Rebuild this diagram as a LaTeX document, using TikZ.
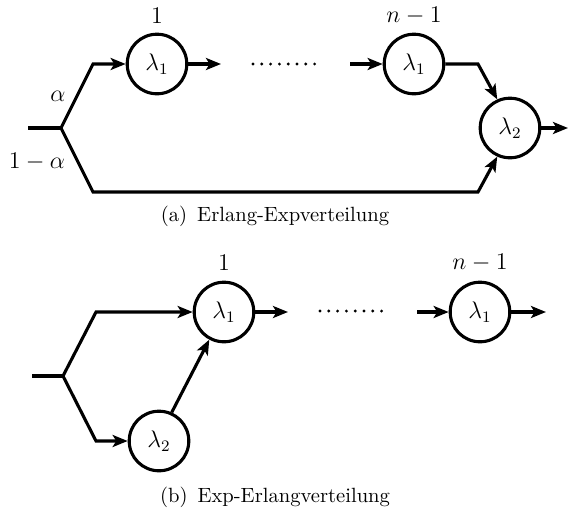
\documentclass[tikz,border=0pt]{standalone}
\usetikzlibrary{arrows.meta}

\tikzset{
  wire/.style={line width=1.55pt, line join=miter},
  arr/.style={wire, -{Stealth[length=7.5pt,width=6pt,inset=1.8pt]}},
  station/.style={circle, draw, line width=1.55pt, minimum size=29.8pt, inner sep=0pt,
                  font=\fontsize{11.5}{13}\selectfont},
  tag/.style={inner sep=0pt, font=\fontsize{11.8}{14}\selectfont},
  dotrow/.style={line width=1.6pt, line cap=round, dash pattern=on 0pt off 4.4pt},
  subcap/.style={inner sep=0pt, font=\fontsize{10.3}{12}\selectfont}
}

\begin{document}
\begin{tikzpicture}[x=0.5pt, y=-0.5pt]
  \useasboundingbox (0,0) rectangle (568,509);

  % ---------- (a) Erlang-Exp ----------
  \coordinate (inA) at (28,128);
  \coordinate (brA) at (61,128);
  \coordinate (upA) at (93,64);
  \coordinate (dnA) at (93,192);
  \node[station] (a1) at (157,64) {$\lambda_1$};
  \node[station] (an) at (414,64) {$\lambda_1$};
  \node[station] (a2) at (510,128) {$\lambda_2$};
  \node[tag] (a1t) at (157,16) {$1$};
  \node[tag] (ant) at (414,16) {$n-1$};
  \node[tag] (alf) at (58,96) {$\alpha$};
  \node[tag] (nalf) at (37,162) {$1-\alpha$};
  \coordinate (a1o) at (221,64);
  \coordinate (dotsA1) at (253,64);
  \coordinate (dotsA2) at (315,64);
  \coordinate (ani) at (350,64);
  \coordinate (kA1) at (478,64);
  \coordinate (kA2) at (478,192);
  \coordinate (aout) at (568,128);

  \draw[wire] (inA) -- (brA);
  \draw[arr] (brA) -- (upA) -- (a1);
  \draw[arr] (a1) -- (a1o);
  \draw[dotrow] (dotsA1) -- (dotsA2);
  \draw[arr] (ani) -- (an);
  \draw[arr] (an) -- (kA1) -- (a2.114);
  \draw[arr] (brA) -- (dnA) -- (kA2) -- (a2.246);
  \draw[arr] (a2) -- (aout);

  \node[subcap] (capA) at (275,216) {(a)\hspace{5pt}Erlang-Expverteilung};

  % ---------- (b) Exp-Erlang ----------
  \coordinate (inB) at (32,376);
  \coordinate (brB) at (63,376);
  \coordinate (upB) at (96,312);
  \coordinate (dnB) at (96,441);
  \node[station] (b1) at (224,312) {$\lambda_1$};
  \node[station] (b2) at (159,441) {$\lambda_2$};
  \node[station] (bn) at (480,312) {$\lambda_1$};
  \node[tag] (b1t) at (224,263) {$1$};
  \node[tag] (bnt) at (480,263) {$n-1$};
  \coordinate (b1o) at (288,312);
  \coordinate (dotsB1) at (320,311);
  \coordinate (dotsB2) at (383,311);
  \coordinate (bni) at (417,312);
  \coordinate (bout) at (546,312);

  \draw[wire] (inB) -- (brB);
  \draw[arr] (brB) -- (upB) -- (b1);
  \draw[arr] (brB) -- (dnB) -- (b2);
  \draw[arr] (b2.66) -- (b1.242);
  \draw[arr] (b1) -- (b1o);
  \draw[dotrow] (dotsB1) -- (dotsB2);
  \draw[arr] (bni) -- (bn);
  \draw[arr] (bn) -- (bout);

  \node[subcap] (capB) at (275,497) {(b)\hspace{5pt}Exp-Erlangverteilung};
\end{tikzpicture}
\end{document}
